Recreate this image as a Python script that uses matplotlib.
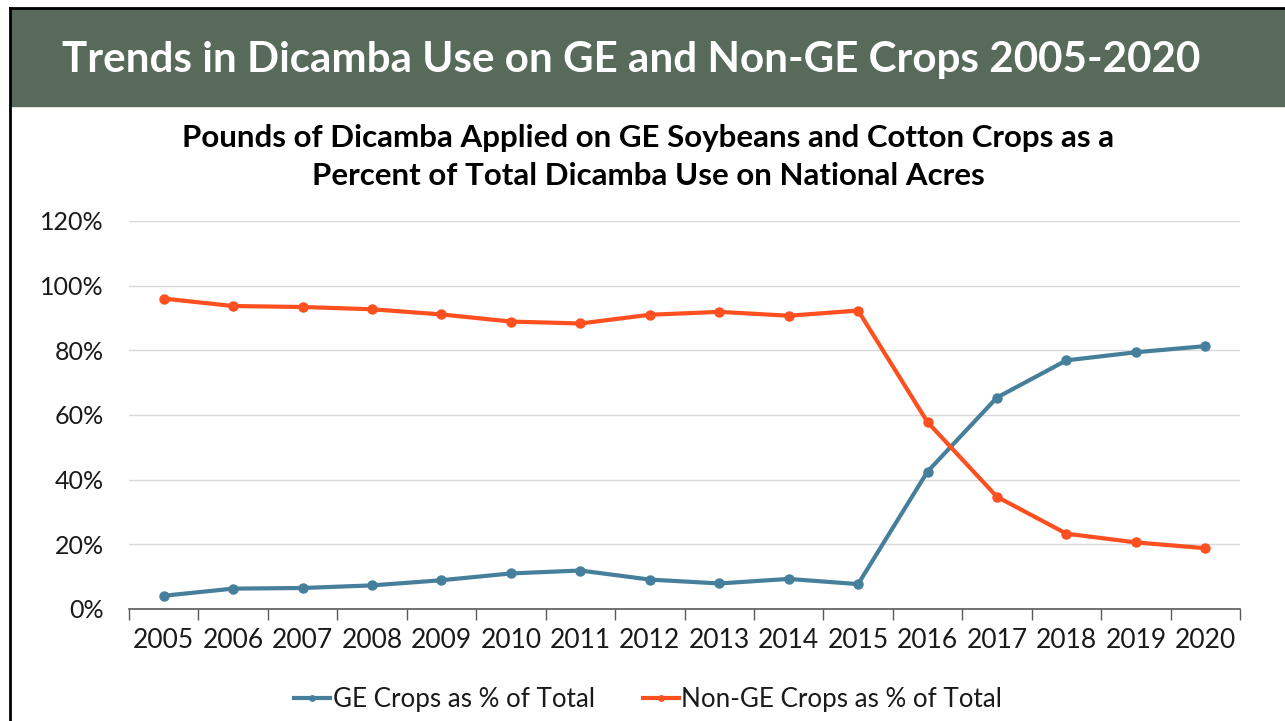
import matplotlib.pyplot as plt
import matplotlib.patches as patches
from matplotlib.lines import Line2D
import numpy as np

years = ["2005", "2006", "2007", "2008", "2009", "2010", "2011", "2012",
         "2013", "2014", "2015", "2016", "2017", "2018", "2019", "2020"]
ge_pct = [4.1, 6.3, 6.5, 7.3, 8.9, 11.0, 11.9, 9.1,
          7.9, 9.3, 7.7, 42.5, 65.4, 76.9, 79.4, 81.3]
non_ge_pct = [96.0, 93.7, 93.4, 92.7, 91.1, 88.9, 88.3, 91.0,
              91.9, 90.7, 92.3, 57.8, 34.7, 23.3, 20.6, 18.8]
y_ticks = [0, 20, 40, 60, 80, 100, 120]

ge_color = "#467f9c"
non_ge_color = "#fd4f1f"
banner_color = "#586a5a"

plt.rcParams["font.family"] = ["Lato", "DejaVu Sans"]

W, H = 1285, 721
fig = plt.figure(figsize=(W / 100, H / 100), dpi=100)

# frame + header banner
fig.add_artist(patches.Rectangle((11 / W, 1 - 106 / H), (W - 11) / W, 97 / H,
                                 transform=fig.transFigure, color=banner_color, zorder=0))
fig.add_artist(Line2D([10 / W, 10 / W], [0, 1 - 8 / H], transform=fig.transFigure,
                      color="black", lw=2))
fig.add_artist(Line2D([10 / W, 1], [1 - 8 / H, 1 - 8 / H], transform=fig.transFigure,
                      color="black", lw=2))
fig.text(62 / W, 1 - 60 / H, "Trends in Dicamba Use on GE and Non-GE Crops 2005-2020",
         color="white", fontsize=30.3, fontweight="bold", ha="left", va="center")

fig.text(648 / W, 1 - 157 / H,
         "Pounds of Dicamba Applied on GE Soybeans and Cotton Crops as a\n"
         "Percent of Total Dicamba Use on National Acres",
         color="black", fontsize=22.5, fontweight="bold", ha="center", va="center",
         linespacing=1.45)

ax = fig.add_axes([129 / W, 1 - 609 / H, (1240 - 129) / W, (609 - 221) / H])
x = np.arange(len(years))
ax.plot(x, ge_pct, color=ge_color, lw=3, marker="o", markersize=6.5,
        label="GE Crops as % of Total", zorder=3)
ax.plot(x, non_ge_pct, color=non_ge_color, lw=3, marker="o", markersize=6.5,
        label="Non-GE Crops as % of Total", zorder=3)

ax.set_xlim(-0.5, len(years) - 0.5)
ax.set_ylim(0, 120)
ax.set_yticks(y_ticks)
ax.set_yticklabels([f"{v}%" for v in y_ticks])
ax.yaxis.grid(True, color="#d9d9d9", lw=1)
ax.set_axisbelow(True)

ax.set_xticks(np.arange(-0.5, len(years), 1))
ax.set_xticklabels([])
ax.set_xticks(x, minor=True)
ax.set_xticklabels(years, minor=True)
ax.tick_params(axis="x", which="major", length=8, width=1, color="#595959", direction="out")
ax.tick_params(axis="x", which="minor", length=0, pad=14, labelsize=19, labelcolor="#1a1a1a")
ax.tick_params(axis="y", length=0, pad=18, labelsize=18, labelcolor="#1a1a1a")

for s in ["top", "right", "left"]:
    ax.spines[s].set_visible(False)
ax.spines["bottom"].set_color("#595959")
ax.spines["bottom"].set_linewidth(1.2)

fig.legend(loc="center", bbox_to_anchor=(648 / W, 1 - 700 / H), ncol=2, frameon=False,
           fontsize=18.7, handlelength=1.4, columnspacing=1.85, handletextpad=0.08,
           markerscale=0.6, labelcolor="#1a1a1a")

fig.savefig("out.png", dpi=100)
